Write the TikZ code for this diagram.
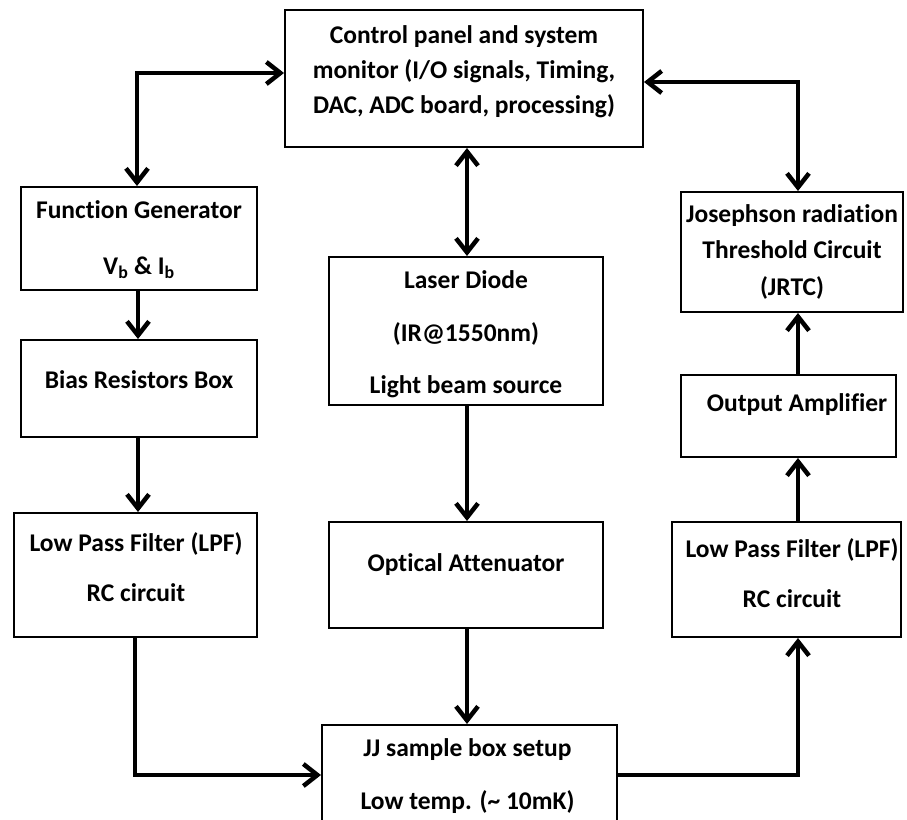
\documentclass[tikz,border=0pt]{standalone}
\usepackage{fontspec}
\setmainfont{Carlito}[Ligatures={NoCommon}]
\usetikzlibrary{arrows.meta}
\begin{document}
\begin{tikzpicture}[x=1pt,y=-1pt,
  box/.style={draw, line width=2pt, inner sep=0pt},
  txt/.style={align=center, inner sep=0pt},
  conn/.style={line width=4.5pt, -{Straight Barb[length=14pt,width=22pt]}},
  biconn/.style={line width=4.5pt, {Straight Barb[length=14pt,width=22pt]}-{Straight Barb[length=14pt,width=22pt]}}
]
\useasboundingbox (0,0) rectangle (907,819);
% boxes
\node[box, minimum width=358pt, minimum height=137pt] (ctrl) at (464,78.5) {};
\node[box, minimum width=236pt, minimum height=103pt] (fg) at (139,238.5) {};
\node[box, minimum width=236pt, minimum height=97pt] (bias) at (139,388.5) {};
\node[box, minimum width=243pt, minimum height=124pt] (lpfl) at (135.5,575) {};
\node[box, minimum width=274pt, minimum height=148pt] (laser) at (466,331) {};
\node[box, minimum width=274pt, minimum height=106pt] (atten) at (466,575) {};
\node[box, minimum width=295pt, minimum height=110pt] (jj) at (469.5,780) {};
\node[box, minimum width=222pt, minimum height=120pt] (jrtc) at (792,252) {};
\node[box, minimum width=215pt, minimum height=82pt] (amp) at (788.5,416) {};
\node[box, minimum width=229pt, minimum height=115pt] (lpfr) at (786.5,579.5) {};
% texts
\node[txt, font=\fontsize{25.5}{35}\selectfont\bfseries] (ctrl-t) at (464,72) {Control panel and system\\monitor (I/O signals, Timing,\\DAC, ADC board, processing)};
\node[txt, font=\fontsize{25.5}{56}\selectfont\bfseries] (fg-t) at (139,240) {Function Generator\\V\textsubscript{b} \& I\textsubscript{b}};
\node[txt, font=\fontsize{25.5}{30}\selectfont\bfseries] (bias-t) at (139,380) {Bias Resistors Box};
\node[txt, font=\fontsize{25.5}{50}\selectfont\bfseries] (lpfl-t) at (136,567) {Low Pass Filter (LPF)\\RC circuit};
\node[txt, font=\fontsize{25.5}{52.5}\selectfont\bfseries] (laser-t) at (466,334.5) {Laser Diode\\(IR@1550nm)\\Light beam source};
\node[txt, font=\fontsize{25.5}{30}\selectfont\bfseries] (atten-t) at (466,565) {Optical Attenuator};
\node[txt, font=\fontsize{25.5}{53}\selectfont\bfseries] (jj-t) at (467.5,776.5) {JJ sample box setup\\Low temp. (\textasciitilde{} 10mK)};
\node[txt, font=\fontsize{25.5}{36.5}\selectfont\bfseries] (jrtc-t) at (792,251.5) {Josephson radiation\\Threshold Circuit\\(JRTC)};
\node[txt, font=\fontsize{25.5}{30}\selectfont\bfseries] (amp-t) at (797,405) {Output Amplifier};
\node[txt, font=\fontsize{25.5}{50}\selectfont\bfseries] (lpfr-t) at (792,573) {Low Pass Filter (LPF)\\RC circuit};
% connector corners
\coordinate (c1) at (137,73);
\coordinate (c2) at (798,82);
\coordinate (c3) at (135,775);
\coordinate (c4) at (798,775);
% connectors
\draw[biconn] (fg.north -| c1) -- (c1) -- (ctrl.west |- c1);
\draw[biconn] (ctrl.east |- c2) -- (c2) -- (jrtc.north -| c2);
\draw[biconn] (ctrl.south -| 467,0) -- (laser.north -| 467,0);
\draw[conn] (fg.south -| 138,0) -- (bias.north -| 138,0);
\draw[conn] (bias.south -| 138,0) -- (lpfl.north -| 138,0);
\draw[conn] (lpfl.south -| c3) -- (c3) -- (jj.west |- c3);
\draw[conn] (laser.south -| 467,0) -- (atten.north -| 467,0);
\draw[conn] (atten.south -| 467,0) -- (jj.north -| 467,0);
\draw[conn] (jj.east |- c4) -- (c4) -- (lpfr.south -| c4);
\draw[conn] (lpfr.north -| c4) -- (amp.south -| c4);
\draw[conn] (amp.north -| c4) -- (jrtc.south -| c4);
\end{tikzpicture}
\end{document}
